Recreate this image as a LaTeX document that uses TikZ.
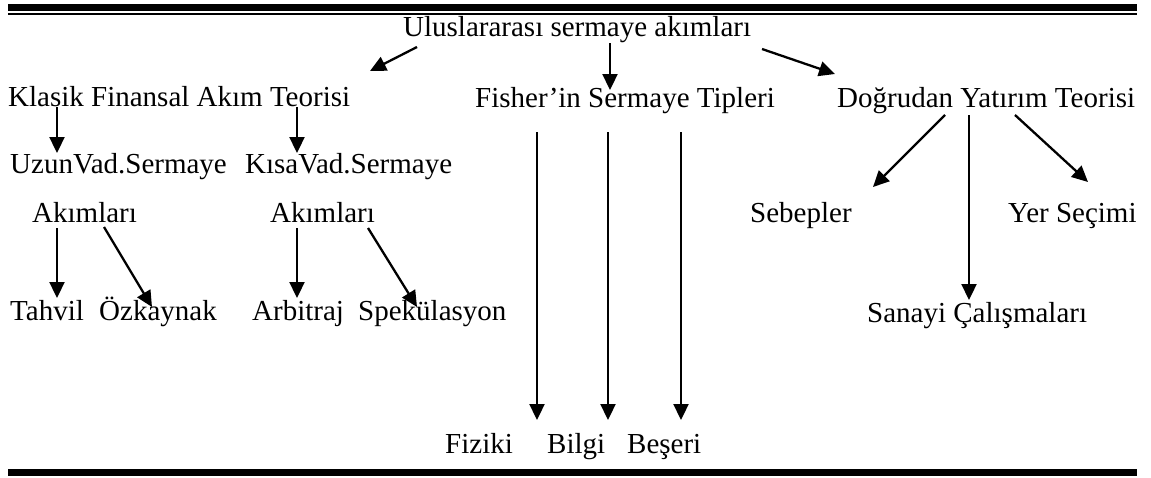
\documentclass[tikz,border=0pt]{standalone}
\usepackage{fontspec}
\setmainfont{Liberation Serif}
\usetikzlibrary{arrows.meta,calc}
% offset from the base-west anchor of a named node (x right, y down)
\newcommand\ofs[3]{($(#1.base west)+(#2,#3)$)}
\begin{document}
\begin{tikzpicture}[x=1pt,y=-1pt,
  lbl/.style={inner sep=0pt,anchor=base west,font=\fontsize{29}{34}\selectfont},
  arr/.style={line width=2.3pt,-{Triangle[length=16pt,width=15pt]}},
  rule/.style={fill=black}]
\useasboundingbox (0,0) rectangle (1151,477);

% horizontal rules
\fill[rule] (8,4) rectangle (1137,11);
\fill[rule] (8,13) rectangle (1137,15);
\fill[rule] (8,469) rectangle (1137,476);

% labels
\node[lbl] (root)   at (403,36)  {Uluslararası sermaye akımları};
\node[lbl] (klasik) at (8,106)   {Klasik Finansal Akım Teorisi};
\node[lbl] (fisher) at (475,107) {Fisher’in Sermaye Tipleri};
\node[lbl] (dogru)  at (837,107) {Doğrudan Yatırım Teorisi};
\node[lbl] (uzun)   at (10,173)  {UzunVad.Sermaye};
\node[lbl] (kisa)   at (245,173) {KısaVad.Sermaye};
\node[lbl] (akL)    at (32,222)  {Akımları};
\node[lbl] (akR)    at (270,222) {Akımları};
\node[lbl] (seb)    at (750,222) {Sebepler};
\node[lbl] (yer)    at (1008,222){Yer Seçimi};
\node[lbl] (tahvil) at (10,320)  {Tahvil};
\node[lbl] (ozk)    at (99,320)  {Özkaynak};
\node[lbl] (arb)    at (252,320) {Arbitraj};
\node[lbl] (spek)   at (358,320) {Spekülasyon};
\node[lbl] (sanayi) at (867,322) {Sanayi Çalışmaları};
\node[lbl] (fiziki) at (445,453) {Fiziki};
\node[lbl] (bilgi)  at (547,453) {Bilgi};
\node[lbl] (beseri) at (627,453) {Beşeri};

% connectors
\draw[arr] \ofs{root}{14}{11}   -- \ofs{klasik}{362}{-35};
\draw[arr] \ofs{root}{207}{7}   -- \ofs{fisher}{135}{-17};
\draw[arr] \ofs{root}{359}{13}  -- \ofs{dogru}{-2}{-33};

\draw[arr] \ofs{klasik}{49}{1}  -- \ofs{uzun}{47}{-20};
\draw[arr] \ofs{klasik}{289}{1} -- \ofs{kisa}{52}{-20};

\draw[arr] \ofs{akL}{25}{6}     -- \ofs{tahvil}{47}{-22};
\draw[arr] \ofs{akL}{72}{5}     -- \ofs{ozk}{53}{-13};
\draw[arr] \ofs{akR}{27}{6}     -- \ofs{arb}{45}{-22};
\draw[arr] \ofs{akR}{98}{6}     -- \ofs{spek}{59}{-13};

\draw[arr] \ofs{fisher}{62}{25}  -- \ofs{fiziki}{92}{-33};
\draw[arr] \ofs{fisher}{133}{25} -- \ofs{bilgi}{61}{-33};
\draw[arr] \ofs{fisher}{206}{25} -- \ofs{beseri}{54}{-33};

\draw[arr] \ofs{dogru}{108}{8}  -- \ofs{seb}{123}{-35};
\draw[arr] \ofs{dogru}{132}{8}  -- \ofs{sanayi}{102}{-22};
\draw[arr] \ofs{dogru}{178}{8}  -- \ofs{yer}{80}{-40};
\end{tikzpicture}
\end{document}
